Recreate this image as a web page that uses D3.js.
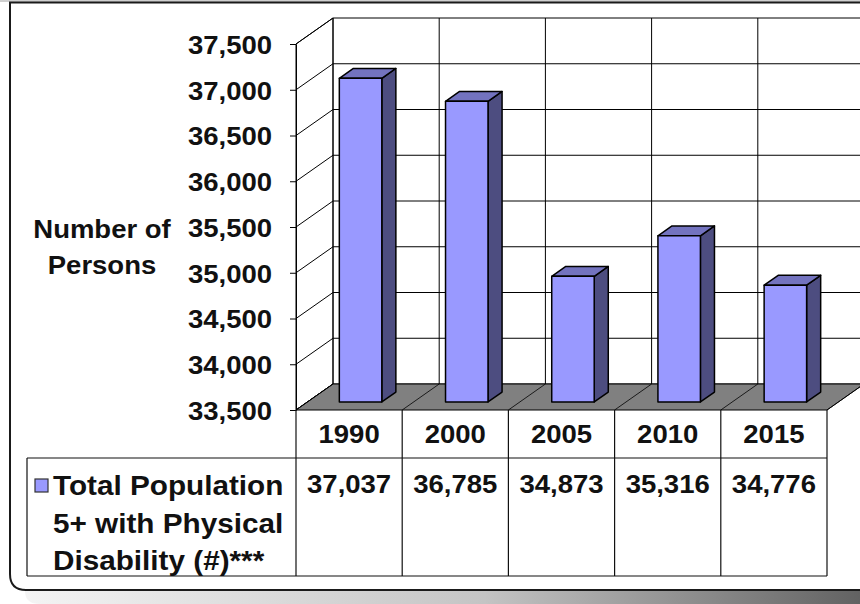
<!DOCTYPE html>
<html lang="en">
<head>
  <meta charset="UTF-8">
  <title>Persons with Physical Disability</title>
  <script src="https://d3js.org/d3.v7.min.js" charset="utf-8"></script>
  <style>
    body { margin: 0; background: #fff; }
    text {
      font-family: "Liberation Sans", Arial, sans-serif;
      font-weight: bold;
      fill: #111;
    }
  </style>
</head>
<body>
<div class="chart"></div>
<script>
  // data
  var years = ['1990', '2000', '2005', '2010', '2015']
  var values = [37037, 36785, 34873, 35316, 34776]
  var yTicks = [33500, 34000, 34500, 35000, 35500, 36000, 36500, 37000, 37500]
  var axisTitle = ['Number of', 'Persons']
  var seriesName = ['Total Population', '5+ with Physical', 'Disability (#)***']

  var width = 860
  var height = 604
  var depthX = 37   // 3d offset of the back wall
  var depthY = -26
  var frontZ = 0.31 // bar front / back as part of the depth
  var backZ = 0.69
  var stretch = 1.1 // text in the picture is a bit wider than tall

  var svg = d3.select('.chart')
    .append('svg')
    .attr('width', width)
    .attr('height', height)

  var xScale = d3.scaleBand()
    .domain(years)
    .range([296, 827])

  var yScale = d3.scaleLinear()
    .domain([yTicks[0], yTicks[yTicks.length - 1]])
    .range([410, 44])

  var yMin = yTicks[0]
  var yMax = yTicks[yTicks.length - 1]
  var fmt = d3.format(',')

  function pt(x, v, z){
    return [x + depthX * z, yScale(v) + depthY * z]
  }

  function addText(x, y, str, size, anchor){
    svg.append('text')
      .attr('transform', 'translate(' + x + ',' + y + ') scale(' + stretch + ',1)')
      .attr('font-size', size)
      .attr('text-anchor', anchor)
      .text(str)
  }

  // frame
  var defs = svg.append('defs')
  var grad = defs.append('linearGradient').attr('id', 'strip')
  grad.append('stop').attr('offset', '0%').attr('stop-color', '#f4f4f4')
  grad.append('stop').attr('offset', '55%').attr('stop-color', '#c4c4c4')
  grad.append('stop').attr('offset', '100%').attr('stop-color', '#626262')

  svg.append('rect')
    .attr('x', 0).attr('y', 0)
    .attr('width', width).attr('height', 2)
    .attr('fill', '#cfcfcf')

  svg.append('path')
    .attr('d', 'M25,591 H860 V604 H40 Q25,604 25,591 Z')
    .attr('fill', 'url(#strip)')

  svg.append('path')
    .attr('d', 'M862,2.5 H10 V574 Q10,590 26,590 H862')
    .attr('fill', '#fff')
    .attr('stroke', '#1a1a1a')
    .attr('stroke-width', 2)

  // walls
  var x0 = xScale.range()[0]
  var x1 = xScale.range()[1]

  svg.append('polygon')
    .attr('points', [pt(x0, yMin, 0), pt(x0, yMax, 0), pt(x0, yMax, 1), pt(x0, yMin, 1)].join(' '))
    .attr('fill', '#fff')
    .attr('stroke', '#000')

  // side wall gridlines
  svg.selectAll('.sideGrid')
    .data(yTicks)
    .enter()
    .append('line')
    .attr('class', 'sideGrid')
    .attr('x1', x0).attr('y1', d => yScale(d))
    .attr('x2', x0 + depthX).attr('y2', d => yScale(d) + depthY)
    .attr('stroke', '#000')

  // back wall gridlines
  svg.selectAll('.backGrid')
    .data(yTicks)
    .enter()
    .append('line')
    .attr('class', 'backGrid')
    .attr('x1', x0 + depthX).attr('y1', d => yScale(d) + depthY)
    .attr('x2', x1 + depthX).attr('y2', d => yScale(d) + depthY)
    .attr('stroke', '#000')

  var edges = years.map(d => xScale(d)).concat([x1])

  svg.selectAll('.backV')
    .data(edges)
    .enter()
    .append('line')
    .attr('class', 'backV')
    .attr('x1', d => d + depthX).attr('y1', yScale(yMin) + depthY)
    .attr('x2', d => d + depthX).attr('y2', yScale(yMax) + depthY)
    .attr('stroke', '#000')

  // floor
  svg.append('polygon')
    .attr('points', [pt(x0, yMin, 0), pt(x1, yMin, 0), pt(x1, yMin, 1), pt(x0, yMin, 1)].join(' '))
    .attr('fill', '#808080')
    .attr('stroke', '#000')

  svg.selectAll('.floorLine')
    .data(edges)
    .enter()
    .append('line')
    .attr('class', 'floorLine')
    .attr('x1', d => d).attr('y1', yScale(yMin))
    .attr('x2', d => d + depthX).attr('y2', yScale(yMin) + depthY)
    .attr('stroke', '#000')
    .attr('stroke-width', 0.8)

  // bars
  var barW = xScale.bandwidth() * 0.4
  var bars = svg.selectAll('.bar')
    .data(values)
    .enter()
    .append('g')
    .attr('class', 'bar')
    .attr('stroke', '#000')
    .attr('stroke-width', 1.5)
    .attr('stroke-linejoin', 'round')

  bars.append('polygon')
    .attr('fill', '#4d4d80')
    .attr('points', (d, i) => {
      let bx = xScale(years[i]) + (xScale.bandwidth() + barW) / 2
      return [pt(bx, d, frontZ), pt(bx, d, backZ), pt(bx, yMin, backZ), pt(bx, yMin, frontZ)].join(' ')
    })

  bars.append('polygon')
    .attr('fill', '#7373bf')
    .attr('points', (d, i) => {
      let bx = xScale(years[i]) + (xScale.bandwidth() - barW) / 2
      return [pt(bx, d, frontZ), pt(bx, d, backZ), pt(bx + barW, d, backZ), pt(bx + barW, d, frontZ)].join(' ')
    })

  bars.append('polygon')
    .attr('fill', '#9999ff')
    .attr('points', (d, i) => {
      let bx = xScale(years[i]) + (xScale.bandwidth() - barW) / 2
      return [pt(bx, d, frontZ), pt(bx + barW, d, frontZ), pt(bx + barW, yMin, frontZ), pt(bx, yMin, frontZ)].join(' ')
    })

  // y axis
  var yAxis = d3.axisLeft(yScale)
    .tickValues(yTicks)
    .tickFormat(fmt)
    .tickSizeInner(6)
    .tickSizeOuter(0)

  var gy = svg.append('g')
    .attr('transform', 'translate(' + x0 + ',0)')
    .call(yAxis)
  gy.select('.domain').attr('stroke', '#000')
  gy.selectAll('.tick line').attr('stroke', '#000')
  gy.selectAll('.tick text')
    .attr('x', -24 / stretch)
    .attr('dy', '0.37em')
    .attr('transform', 'scale(' + stretch + ',1)')
    .attr('font-size', 25)
    .attr('font-family', null)
    .attr('fill', '#111')

  addText(102, 238, axisTitle[0], 25, 'middle')
  addText(102, 274, axisTitle[1], 25, 'middle')

  // data table
  var tTop = yScale(yMin)
  var tMid = 458
  var tBot = 576
  var tLeft = 27

  var grid = svg.append('g').attr('stroke', '#111').attr('stroke-width', 1.2)
  edges.forEach(d => {
    grid.append('line').attr('x1', d).attr('x2', d).attr('y1', tTop).attr('y2', tBot)
  })
  grid.append('line').attr('x1', tLeft).attr('x2', x1).attr('y1', tMid).attr('y2', tMid)
  grid.append('line').attr('x1', tLeft).attr('x2', x1).attr('y1', tBot).attr('y2', tBot)
  grid.append('line').attr('x1', tLeft).attr('x2', tLeft).attr('y1', tMid).attr('y2', tBot)

  years.forEach((d, i) => {
    let cx = xScale(d) + xScale.bandwidth() / 2
    addText(cx, 443, d, 25, 'middle')
    addText(cx, 493, fmt(values[i]), 25, 'middle')
  })

  // legend key
  svg.append('rect')
    .attr('x', 35).attr('y', 479)
    .attr('width', 13).attr('height', 13)
    .attr('fill', '#9999ff')
    .attr('stroke', '#333')
    .attr('stroke-width', 1.2)

  seriesName.forEach((d, i) => {
    addText(53, 495 + i * 37.5, d, 27, 'start')
  })
</script>
</body>
</html>
